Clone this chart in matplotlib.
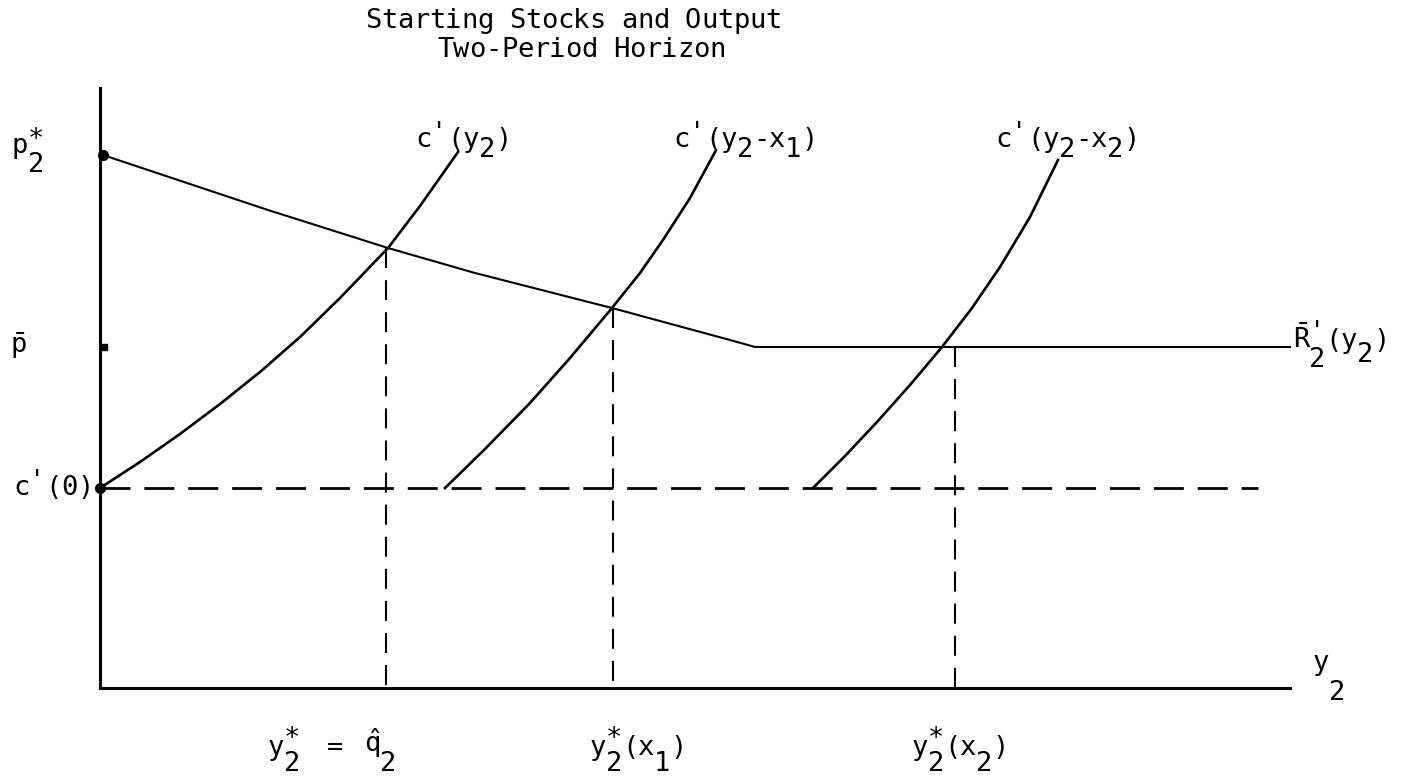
import matplotlib
matplotlib.use("Agg")
import matplotlib.pyplot as plt

plt.rcParams['font.family'] = ['DejaVu Sans Mono']
plt.rcParams['mathtext.fontset'] = 'custom'
plt.rcParams['mathtext.rm'] = 'DejaVu Sans Mono'
plt.rcParams['mathtext.it'] = 'DejaVu Sans Mono'

# price levels on the vertical axis
p_star = 5.33
p_bar = 3.41
c_zero = 2.00

# expected marginal revenue R'_2(y2): falls from p2* then flat at p-bar
demand_q = [0.03, 1.68, 2.88, 3.75, 5.12, 6.30, 6.55, 11.90]
demand_p = [5.33, 4.78, 4.40, 4.15, 3.80, 3.48, 3.41, 3.41]

# marginal cost c'(y2) with no starting stock
mc0_q = [0.00, 0.40, 0.80, 1.20, 1.60, 2.00, 2.40, 2.88, 3.20, 3.58]
mc0_p = [2.00, 2.26, 2.54, 2.84, 3.16, 3.51, 3.90, 4.40, 4.82, 5.36]

# c'(y2 - x1), starting stock x1
mc1_q = [3.45, 3.85, 4.30, 4.70, 5.12, 5.40, 5.63, 5.90, 6.15]
mc1_p = [2.00, 2.39, 2.85, 3.30, 3.80, 4.15, 4.48, 4.90, 5.36]

# c'(y2 - x2), starting stock x2
mc2_q = [7.13, 7.45, 7.77, 8.10, 8.42, 8.72, 9.00, 9.30, 9.58]
mc2_p = [2.00, 2.32, 2.66, 3.03, 3.41, 3.80, 4.21, 4.71, 5.28]

# optimal outputs and the prices where they are cut
opt_q = [2.86, 5.13, 8.55]
opt_p = [4.40, 3.80, 3.41]

fig = plt.figure(figsize=(14.03, 7.76), dpi=100)
ax = fig.add_axes([100/1403, 88/776, 1190/1403, 600/776])
ax.set_xlim(0, 11.9)
ax.set_ylim(0, 6.0)
for s in ['top', 'right']:
    ax.spines[s].set_visible(False)
for s in ['left', 'bottom']:
    ax.spines[s].set_linewidth(2.2)
ax.set_xticks([])
ax.set_yticks([])

ax.plot(demand_q, demand_p, color='black', lw=1.5, clip_on=False)
ax.plot(mc0_q, mc0_p, color='black', lw=1.9, clip_on=False)
ax.plot(mc1_q, mc1_p, color='black', lw=1.9, clip_on=False)
ax.plot(mc2_q, mc2_p, color='black', lw=1.9, clip_on=False)

# c'(0) level carried across as a dashed line
ax.plot([0, 11.58], [c_zero, c_zero], color='black', lw=2.0,
        ls=(0, (10.8, 5.0)), clip_on=False)

for q, p in zip(opt_q, opt_p):
    ax.plot([q, q], [p, 0], color='black', lw=1.5, ls=(0, (9.6, 5.8)))

ax.plot([0.03], [p_star], 'o', color='black', ms=7, clip_on=False)
ax.plot([0.04], [p_bar], 's', color='black', ms=5, clip_on=False)
ax.plot([0.0], [c_zero], 'o', color='black', ms=7, clip_on=False)

# overlay in pixel units for the typewritten lettering
ov = fig.add_axes([0, 0, 1, 1], facecolor='none')
ov.set_xlim(0, 1403)
ov.set_ylim(776, 0)
ov.axis('off')

PITCH = 16.0
FS = 19.5


def typed(x0, base, pieces, size=FS):
    # each piece: (text, column, vertical shift in px; + is down)
    for text, col, shift in pieces:
        chars = [text] if text.startswith('$') else list(text)
        for i, ch in enumerate(chars):
            ov.text(x0 + (col + i) * PITCH, base + shift, ch, fontsize=size,
                    ha='left', va='baseline')


typed(365, 28, [("Starting Stocks and Output", 0, 0)])
typed(437, 57, [("Two-Period Horizon", 0, 0)])

# vertical axis
typed(12, 153, [("p", 0, 0), ("2", 1, 19), ("*", 1, -6)])
typed(10, 353, [(r"$\bar{\mathrm{p}}$", 0, 0)])
typed(13, 495, [("c", 0, 0), ("'", 1, -6), ("(0)", 2, 0)])

# curve labels
typed(415, 147, [("c", 0, 0), ("'", 1, -6), ("(y", 2, 0), ("2", 4, 10), (")", 5, 0)])
typed(673, 147, [("c", 0, 0), ("'", 1, -6), ("(y", 2, 0), ("2", 4, 10),
                 ("-x", 5, 0), ("1", 7, 10), (")", 8, 0)])
typed(995, 147, [("c", 0, 0), ("'", 1, -6), ("(y", 2, 0), ("2", 4, 10),
                 ("-x", 5, 0), ("2", 7, 10), (")", 8, 0)])
typed(1293, 348, [(r"$\bar{\mathrm{R}}$", 0, 0), ("'", 1, -8), ("2", 1, 19),
                  ("(y", 2, 0), ("2", 4, 14), (")", 5, 0)])
typed(1313, 670, [("y", 0, 0), ("2", 1, 30)])

# optimal output labels under the horizontal axis
typed(268, 755, [("y", 0, 0), ("2", 1, 16), ("*", 1, -9), ("=", 3.7, 0),
                 (r"$\hat{\mathrm{q}}$", 6, -3), ("2", 7, 16)])
typed(590, 755, [("y", 0, 0), ("2", 1, 16), ("*", 1, -9), ("(x", 2, 0),
                 ("1", 4, 16), (")", 5, 0)])
typed(912, 755, [("y", 0, 0), ("2", 1, 16), ("*", 1, -9), ("(x", 2, 0),
                 ("2", 4, 16), (")", 5, 0)])

fig.savefig("out.png", dpi=100, facecolor='white')
